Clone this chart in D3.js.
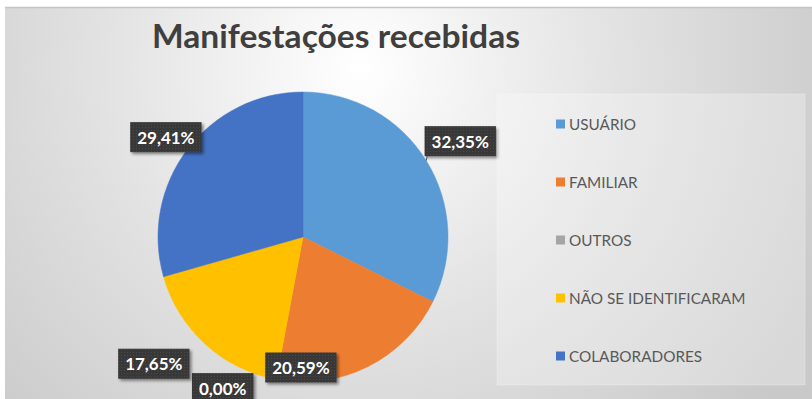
<!DOCTYPE html>
<html>
<head>
<meta charset="utf-8">
<script src="https://cdn.jsdelivr.net/npm/d3@7"></script>
<style>
  html, body { margin: 0; padding: 0; background: #ffffff; }
  svg { display: block; }
</style>
</head>
<body>
<svg id="chart" width="812" height="399"></svg>
<script>
// Manifestações recebidas, por origem
const categories = ["USUÁRIO", "FAMILIAR", "OUTROS", "NÃO SE IDENTIFICARAM", "COLABORADORES"];
const counts = [11, 7, 0, 6, 10];
const percentLabels = ["32,35%", "20,59%", "0,00%", "17,65%", "29,41%"];
const colors = ["#5B9BD5", "#ED7D31", "#A5A5A5", "#FFC000", "#4472C4"];

// label placement: rotation (degrees) from the slice's mid angle and distance as a share of the radius
const labelTurn = [0.4, 27.4, 17.4, 7.3, -1.0];
const labelReach = [1.27, 0.90, 1.18, 1.35, 1.17];
const labelLeader = [true, false, false, false, false];

const W = 812, H = 399;
const svg = d3.select("#chart");
const defs = svg.append("defs");

// backdrop gradient
const bg = defs.append("radialGradient").attr("id", "bg")
  .attr("gradientUnits", "userSpaceOnUse")
  .attr("cx", 360).attr("cy", 70).attr("r", 520);
bg.append("stop").attr("offset", "0").attr("stop-color", "#ffffff");
bg.append("stop").attr("offset", "0.5").attr("stop-color", "#e2e2e2");
bg.append("stop").attr("offset", "1").attr("stop-color", "#c9c9c9");

// grainy fill for the value boxes
const pat = defs.append("pattern").attr("id", "grain")
  .attr("patternUnits", "userSpaceOnUse").attr("width", 3).attr("height", 3);
pat.append("rect").attr("width", 3).attr("height", 3).attr("fill", "#383838");
pat.append("rect").attr("x", 1).attr("y", 1).attr("width", 1).attr("height", 1).attr("fill", "#4a4a4a");

const shadow = defs.append("filter").attr("id", "shadow")
  .attr("x", "-20%").attr("y", "-30%").attr("width", "150%").attr("height", "170%");
shadow.append("feDropShadow").attr("dx", 2).attr("dy", 2)
  .attr("stdDeviation", 1.6).attr("flood-color", "#000").attr("flood-opacity", 0.45);

// chart frame
svg.append("rect").attr("x", 5).attr("y", 7).attr("width", W - 5).attr("height", H - 7)
  .attr("fill", "url(#bg)");
svg.append("line").attr("x1", 5).attr("x2", W).attr("y1", 7.5).attr("y2", 7.5)
  .attr("stroke", "#c4c4c4").attr("stroke-width", 1.5);

// title
svg.append("text")
  .attr("x", 336).attr("y", 48)
  .attr("text-anchor", "middle")
  .attr("font-family", "Lato, 'Open Sans', sans-serif")
  .attr("font-weight", 700)
  .attr("font-size", 33)
  .attr("fill", "#3f3f3f")
  .attr("textLength", 368)
  .attr("lengthAdjust", "spacingAndGlyphs")
  .text("Manifestações recebidas");

// pie
const cx = 303, cy = 237, R = 145;
const pie = d3.pie().sort(null).value(d => d.value)
  .startAngle(0).endAngle(2 * Math.PI);
const data = categories.map((c, i) => ({
  name: c, value: counts[i], label: percentLabels[i], color: colors[i],
  turn: labelTurn[i], reach: labelReach[i], leader: labelLeader[i]
}));
const arcs = pie(data);
const arc = d3.arc().innerRadius(0).outerRadius(R);

const g = svg.append("g").attr("transform", `translate(${cx},${cy})`);
g.selectAll("path.slice").data(arcs.filter(a => a.data.value > 0)).join("path")
  .attr("class", "slice")
  .attr("d", arc)
  .attr("fill", d => d.data.color)
  .attr("stroke", d => d.data.color)
  .attr("stroke-width", 0.5);

// value boxes
const font = "Lato, 'Open Sans', sans-serif";
const labels = g.selectAll("g.lab").data(arcs).join("g").attr("class", "lab");
labels.each(function (a) {
  const mid = (a.startAngle + a.endAngle) / 2;
  const ang = mid + a.data.turn * Math.PI / 180;
  const px = Math.sin(ang) * R * a.data.reach;
  const py = -Math.cos(ang) * R * a.data.reach;
  const sel = d3.select(this);
  const t = sel.append("text")
    .attr("x", px).attr("y", py)
    .attr("text-anchor", "middle")
    .attr("dominant-baseline", "central")
    .attr("font-family", font)
    .attr("font-weight", 700)
    .attr("font-size", 17)
    .attr("fill", "#ffffff")
    .text(a.data.label);
  const tw = t.node().getComputedTextLength();
  const bw = tw + 14, bh = 30;
  const bx = px - bw / 2, by = py - bh / 2;
  if (a.data.leader) {
    const ex = Math.sin(mid) * R, ey = -Math.cos(mid) * R;
    sel.insert("line", "text")
      .attr("x1", ex).attr("y1", ey).attr("x2", bx + 3).attr("y2", by + bh - 2)
      .attr("stroke", "#595959").attr("stroke-width", 1);
  }
  sel.insert("rect", "text")
    .attr("x", bx).attr("y", by).attr("width", bw).attr("height", bh)
    .attr("fill", "url(#grain)")
    .attr("filter", "url(#shadow)");
});

// legend
svg.append("rect")
  .attr("x", 497).attr("y", 94).attr("width", 308).attr("height", 291)
  .attr("fill", "#ffffff").attr("fill-opacity", 0.28)
  .attr("stroke", "#ffffff").attr("stroke-opacity", 0.25);

const ly = d3.scalePoint().domain(categories).range([124, 356]);
const leg = svg.append("g").selectAll("g").data(data).join("g")
  .attr("transform", d => `translate(556,${ly(d.name)})`);
leg.append("rect").attr("x", 0).attr("y", -4.5).attr("width", 9).attr("height", 9)
  .attr("fill", d => d.color);
leg.append("text")
  .attr("x", 13).attr("y", 0)
  .attr("dominant-baseline", "central")
  .attr("font-family", font)
  .attr("font-size", 15.3)
  .attr("fill", "#595959")
  .text(d => d.name);
</script>
</body>
</html>
